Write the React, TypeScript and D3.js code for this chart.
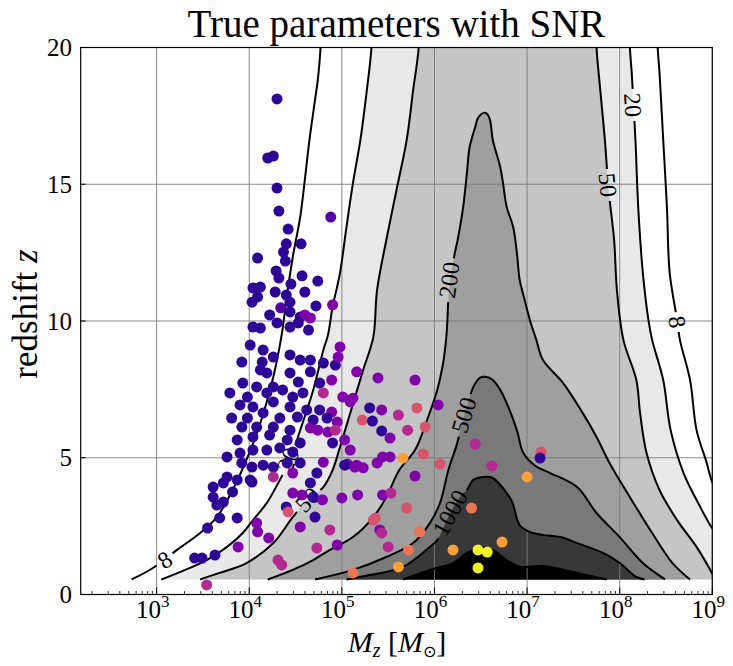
import React from 'react';
import * as d3 from 'd3';

// ---------------- data ----------------
const logMassDomain = [2.18, 9];
const redshiftDomain = [0, 20];
const xMajorExponents = [3, 4, 5, 6, 7, 8, 9];
const yTickValues = [0, 5, 10, 15, 20];

const snrLevels = [8, 20, 50, 200, 500, 1000, 2000];
const snrFills = ['#ffffff', '#e8e8e8', '#c5c5c5', '#9f9f9f', '#797979', '#383838', '#000000'];

// contour lines [log10 M, z]; points beyond the axes only close the filled regions
const contour8: [number, number][] = [
  [2.73, 0.55], [2.96, 0.97], [3.22, 1.63], [3.47, 2.25], [3.65, 2.83], [3.82, 3.82], [3.97, 4.92], [4.12, 6.27],
  [4.26, 7.96], [4.35, 9.49], [4.40, 10.77], [4.47, 12.34], [4.55, 13.8], [4.60, 15.15], [4.65, 16.62], [4.71, 18.08],
  [4.74, 18.81], [4.77, 20.02], [4.78, 22], [8.40, 22], [8.41, 20.02], [8.43, 19.07], [8.47, 16.62], [8.51, 14.17],
  [8.54, 11.76], [8.62, 10.04], [8.65, 9.31], [8.76, 7.84], [8.83, 6.01], [8.94, 4.81], [8.99, 4.19], [9.1, 3.3], [9.3, 0.55],
];
const contour20: [number, number][] = [
  [3.05, 0.55], [3.25, 0.82], [3.54, 1.26], [3.76, 1.74], [3.93, 2.25], [4.04, 2.72], [4.19, 3.35], [4.33, 4.19],
  [4.44, 4.92], [4.55, 6.01], [4.69, 7.47], [4.80, 8.94], [4.85, 9.49], [4.90, 10.51], [4.98, 11.76], [5.05, 13.44],
  [5.12, 15.05], [5.20, 16.62], [5.27, 18.45], [5.32, 20.02], [5.33, 22], [8.10, 22], [8.11, 20.02], [8.13, 19.07],
  [8.17, 16.62], [8.20, 14.17], [8.25, 11.76], [8.31, 10.04], [8.35, 9.31], [8.47, 7.84], [8.55, 6.01], [8.69, 4.44],
  [8.87, 3.2], [8.99, 2.47], [9.1, 2.0], [9.3, 0.55],
];
const contour50: [number, number][] = [
  [3.47, 0.55], [3.68, 0.79], [3.97, 1.15], [4.26, 1.88], [4.47, 2.83], [4.63, 3.46], [4.80, 3.93], [4.90, 4.55],
  [4.98, 5.39], [5.09, 6.63], [5.23, 8.21], [5.34, 9.42], [5.38, 11.13], [5.48, 12.96], [5.59, 14.79], [5.70, 16.62],
  [5.77, 18.45], [5.83, 20.02], [5.84, 22], [7.74, 22], [7.75, 20.02], [7.79, 18.45], [7.84, 16.62], [7.88, 14.79],
  [7.94, 12.96], [7.97, 11.13], [8.04, 9.31], [8.18, 7.84], [8.22, 6.64], [8.29, 5.17], [8.43, 3.82], [8.62, 2.72],
  [8.83, 1.74], [8.99, 0.82], [9.03, 0.55],
];
const contour200: [number, number][] = [
  [4.20, 0.55], [4.47, 0.9], [4.69, 1.26], [4.87, 1.63], [5.12, 2.1], [5.34, 2.83], [5.48, 3.56], [5.62, 4.55],
  [5.79, 5.28], [5.92, 6.38], [6.03, 7.48], [6.09, 8.39], [6.13, 9.49], [6.15, 10.77], [6.17, 11.5], [6.22, 12.49],
  [6.25, 12.96], [6.31, 14.17], [6.35, 15.41], [6.38, 16.36], [6.44, 17.09], [6.47, 17.42], [6.53, 17.61], [6.57, 17.57],
  [6.60, 17.35], [6.63, 16.62], [6.71, 15.63], [6.74, 15.05], [6.78, 14.17], [6.85, 13.44], [6.89, 12.49], [6.92, 11.5],
  [6.96, 10.95], [7.03, 10.04], [7.10, 9.31], [7.17, 8.58], [7.39, 7.73], [7.60, 6.64], [7.75, 5.76], [7.89, 4.81],
  [8.11, 3.56], [8.33, 2.36], [8.57, 1.15], [8.76, 0.55],
];
const contour500: [number, number][] = [
  [4.71, 0.55], [5.12, 0.9], [5.48, 1.37], [5.77, 1.88], [5.95, 2.61], [6.06, 3.35], [6.15, 4.55], [6.24, 5.47],
  [6.28, 6.01], [6.34, 6.74], [6.42, 7.59], [6.49, 7.92], [6.55, 7.96], [6.63, 7.84], [6.71, 7.48], [6.78, 7.0],
  [6.89, 6.01], [6.96, 5.17], [7.09, 4.7], [7.25, 4.44], [7.54, 3.93], [7.75, 2.98], [8.00, 2.1], [8.25, 1.15], [8.49, 0.55],
];
const contour1000: [number, number][] = [
  [5.05, 0.55], [5.30, 0.71], [5.66, 1.01], [5.95, 1.74], [6.03, 1.99], [6.17, 2.98], [6.31, 3.71], [6.35, 3.82],
  [6.42, 4.19], [6.52, 4.3], [6.63, 4.26], [6.78, 3.71], [6.84, 3.38], [6.92, 2.54], [7.03, 2.29], [7.17, 2.18],
  [7.36, 2.1], [7.54, 1.88], [7.82, 1.52], [8.00, 1.15], [8.18, 0.64], [8.27, 0.55],
];
const contour2000: [number, number][] = [
  [5.66, 0.55], [5.95, 0.9], [6.20, 1.15], [6.35, 1.52], [6.52, 1.74], [6.63, 1.63], [6.78, 1.26], [6.92, 1.02],
  [7.17, 1.04], [7.54, 0.79], [7.86, 0.55],
];
const snrContours = [contour8, contour20, contour50, contour200, contour500, contour1000, contour2000];

// inline contour labels
const contourLabelValues = [8, 20, 50, 200, 500, 1000, 20, 50, 8];
const contourLabelLogM = [3.09, 4.42, 4.63, 6.16, 6.32, 6.17, 8.14, 7.87, 8.62];
const contourLabelZ = [1.26, 4.92, 3.46, 11.5, 6.56, 2.98, 17.9, 14.97, 9.96];

// scatter: log10 mass, redshift, colour value (plasma)
const pointLogM = [
  4.30, 4.20, 4.26, 4.30, 4.32, 4.42, 4.88, 4.40, 4.56, 4.37, 4.09, 4.39, 4.29, 4.32, 4.57, 4.74, 4.04, 4.12, 4.09, 4.03,
  4.28, 4.45, 4.40, 4.60, 4.72, 4.90, 4.22, 4.34, 4.44, 4.44, 4.55, 4.60, 4.66, 4.30, 4.44, 4.53, 4.64, 4.04, 4.12, 4.01,
  3.92, 4.15, 4.14, 4.26, 4.44, 4.55, 4.66, 4.80, 4.98, 4.93, 4.12, 4.19, 4.44, 4.66, 5.16, 5.39, 3.93, 4.08, 4.26, 4.53,
  4.76, 4.89, 3.79, 3.98, 4.19, 4.36, 4.47, 4.58, 4.80, 5.01, 5.12, 3.90, 4.04, 4.26, 4.44, 4.62, 4.76, 4.89, 5.09, 5.22,
  5.30, 5.43, 3.81, 3.98, 4.15, 4.33, 4.52, 4.69, 4.84, 4.95, 5.33, 3.92, 4.08, 4.26, 4.44, 4.66, 4.74, 4.85, 4.93, 5.43,
  3.87, 4.04, 4.22, 4.41, 4.55, 5.03, 5.52, 3.76, 3.90, 4.04, 4.19, 4.33, 4.47, 3.92, 4.03, 4.15, 4.26, 4.41, 4.55, 4.80,
  5.06, 5.16, 5.23, 5.38, 5.44, 5.52, 3.76, 3.87, 4.03, 4.26, 4.47, 4.73, 4.66, 3.61, 3.72, 3.82, 4.47, 4.57, 4.69, 4.79,
  5.00, 5.17, 5.44, 5.53, 3.61, 3.65, 4.40, 4.42, 4.71, 3.68, 3.87, 4.08, 4.09, 4.55, 4.87, 5.34, 3.55, 4.21, 4.73, 4.95,
  5.41, 5.43, 3.88, 3.41, 3.49, 3.63, 4.31, 4.35, 5.12, 3.54, 5.79, 5.81, 6.04, 5.61, 5.71, 5.90, 6.44, 5.66, 5.88, 6.06,
  5.79, 6.62, 7.15, 7.14, 7.00, 5.03, 5.14, 5.70, 6.40, 5.36, 5.84, 5.50, 5.72, 6.20, 6.47, 6.57, 6.73, 5.61, 6.47, 4.96,
  5.09, 4.90, 4.01, 3.72,
];
const pointZ = [
  18.12, 15.96, 16.03, 14.86, 14.02, 13.36, 13.8, 12.82, 12.82, 12.52, 12.3, 12.19, 11.83, 11.57, 11.65, 11.46, 11.21, 11.24, 10.88, 10.69,
  11.06, 11.35, 10.95, 11.06, 10.55, 10.59, 10.22, 10.48, 10.69, 10.33, 10.15, 10.22, 10.11, 9.93, 9.78, 9.93, 9.67, 9.78, 9.74, 9.12,
  8.5, 8.94, 8.5, 8.68, 8.76, 8.57, 8.57, 8.46, 9.05, 8.39, 8.21, 8.1, 8.1, 8.14, 8.14, 7.92, 7.73, 7.59, 7.59, 7.77,
  7.73, 7.84, 7.37, 7.22, 7.37, 7.48, 7.22, 7.37, 7.37, 7.22, 7.18, 6.93, 6.86, 7.04, 6.86, 6.75, 6.75, 6.67, 7.04, 6.38,
  6.82, 6.75, 6.45, 6.45, 6.64, 6.45, 6.49, 6.38, 6.45, 6.31, 6.34, 6.12, 6.12, 6.12, 6.01, 6.09, 6.01, 5.94, 6.01, 5.98,
  5.65, 5.76, 5.83, 5.65, 5.54, 5.65, 5.72, 5.03, 5.17, 5.28, 5.28, 5.36, 5.21, 4.81, 4.66, 4.73, 4.66, 4.81, 4.81, 4.84,
  4.77, 4.73, 4.63, 4.81, 5.03, 5.03, 4.3, 4.19, 4.11, 4.3, 4.44, 4.44, 4.08, 3.93, 4.08, 3.75, 3.71, 3.64, 3.56, 3.46,
  3.53, 3.64, 3.64, 3.71, 3.56, 3.27, 3.2, 3.02, 2.83, 2.8, 2.8, 2.61, 2.29, 2.47, 2.36, 2.72, 2.43, 2.07, 1.7, 1.81,
  2.36, 2.25, 1.74, 1.33, 1.33, 1.44, 1.26, 1.08, 0.79, 0.35, 7.84, 6.82, 6.93, 6.56, 6.01, 6.12, 5.5, 4.99, 5.14, 4.77,
  4.33, 4.7, 5.21, 4.99, 4.3, 4.73, 4.66, 3.16, 3.16, 2.8, 2.29, 1.74, 1.63, 1.63, 1.63, 1.55, 1.92, 1.01, 0.97, 8.68,
  5.28, 5.54, 4.19, 3.38,
];
const pointColor = [
  0.06, 0.06, 0.06, 0.06, 0.06, 0.06, 0.14, 0.06, 0.06, 0.06, 0.06, 0.06, 0.06, 0.06, 0.06, 0.06, 0.06, 0.06, 0.06, 0.06,
  0.06, 0.06, 0.06, 0.06, 0.06, 0.25, 0.06, 0.14, 0.06, 0.06, 0.06, 0.25, 0.25, 0.06, 0.06, 0.06, 0.06, 0.06, 0.06, 0.06,
  0.06, 0.06, 0.06, 0.06, 0.06, 0.06, 0.06, 0.06, 0.25, 0.06, 0.06, 0.06, 0.06, 0.06, 0.25, 0.25, 0.06, 0.06, 0.06, 0.06,
  0.06, 0.25, 0.06, 0.06, 0.06, 0.06, 0.06, 0.06, 0.4, 0.25, 0.25, 0.06, 0.06, 0.06, 0.06, 0.06, 0.06, 0.25, 0.25, 0.55,
  0.06, 0.25, 0.06, 0.06, 0.06, 0.06, 0.06, 0.06, 0.06, 0.25, 0.06, 0.06, 0.06, 0.06, 0.06, 0.25, 0.25, 0.25, 0.4, 0.06,
  0.06, 0.06, 0.06, 0.06, 0.06, 0.25, 0.25, 0.06, 0.06, 0.06, 0.06, 0.06, 0.06, 0.06, 0.06, 0.06, 0.06, 0.06, 0.06, 0.25,
  0.25, 0.25, 0.25, 0.25, 0.25, 0.25, 0.06, 0.06, 0.06, 0.4, 0.25, 0.06, 0.06, 0.06, 0.06, 0.06, 0.25, 0.25, 0.06, 0.25,
  0.25, 0.25, 0.25, 0.4, 0.06, 0.06, 0.06, 0.55, 0.06, 0.06, 0.06, 0.25, 0.25, 0.25, 0.4, 0.55, 0.06, 0.25, 0.4, 0.25,
  0.25, 0.4, 0.25, 0.06, 0.06, 0.06, 0.4, 0.4, 0.66, 0.4, 0.25, 0.55, 0.25, 0.4, 0.4, 0.55, 0.4, 0.78, 0.55, 0.55,
  0.25, 0.4, 0.55, 0.06, 0.78, 0.06, 0.25, 0.55, 0.66, 0.55, 0.66, 0.4, 0.66, 0.78, 0.98, 0.98, 0.78, 0.78, 0.98, 0.25,
  0.25, 0.06, 0.06, 0.06,
];

// ---------------- layout ----------------
const W = 733;
const H = 666;
const PL = 80.7;
const PR = 712.3;
const PT = 47.5;
const PB = 594.5;
const FONT = "'Liberation Serif', 'DejaVu Serif', serif";

export default function App() {
  const x = d3.scaleLog().domain([10 ** logMassDomain[0], 10 ** logMassDomain[1]]).range([PL, PR]);
  const y = d3.scaleLinear().domain(redshiftDomain).range([PB, PT]);
  const px = (p: [number, number]): [number, number] => [x(10 ** p[0]), y(p[1])];
  const lineGen = d3.line().curve(d3.curveCatmullRom.alpha(0.5));

  const contourPaths = snrContours.map((c) => lineGen(c.map(px)) as string);

  const labelFs = 24;
  const labels = contourLabelValues.map((v, i) => {
    const lvl = snrLevels.indexOf(v);
    const pts = snrContours[lvl].map(px);
    const [lx, ly] = px([contourLabelLogM[i], contourLabelZ[i]]);
    let best = 0;
    let bd = Infinity;
    pts.forEach((p, j) => {
      const d = (p[0] - lx) ** 2 + (p[1] - ly) ** 2;
      if (d < bd) { bd = d; best = j; }
    });
    const a = pts[Math.max(0, best - 1)];
    const b = pts[Math.min(pts.length - 1, best + 1)];
    let ang = (Math.atan2(b[1] - a[1], b[0] - a[0]) * 180) / Math.PI;
    if (ang > 90) ang -= 180;
    if (ang < -90) ang += 180;
    const text = String(v);
    return { text, x: lx, y: ly, ang, w: text.length * labelFs * 0.5 + 8, h: labelFs * 0.72 };
  });

  const minorTicks: number[] = [];
  for (let e = 2; e <= 8; e++) {
    for (let k = 2; k <= 9; k++) {
      const v = k * 10 ** e;
      if (v > 10 ** logMassDomain[0] && v < 10 ** logMassDomain[1]) minorTicks.push(v);
    }
  }

  return (
    <svg width={W} height={H} viewBox={`0 0 ${W} ${H}`} style={{ display: 'block', margin: '-8px', background: '#fff' }}>
      <defs>
        <clipPath id="plotClip">
          <rect x={PL} y={PT} width={PR - PL} height={PB - PT} />
        </clipPath>
        <mask id="labelMask" maskUnits="userSpaceOnUse" x={0} y={0} width={W} height={H}>
          <rect x={0} y={0} width={W} height={H} fill="white" />
          {labels.map((l, i) => (
            <rect key={i} transform={`translate(${l.x},${l.y}) rotate(${l.ang})`} x={-l.w / 2} y={-l.h / 2} width={l.w} height={l.h} fill="black" />
          ))}
        </mask>
      </defs>
      <rect x={0} y={0} width={W} height={H} fill="#fff" />

      <g clipPath="url(#plotClip)">
        {contourPaths.map((d, i) => (
          <path key={i} d={d + 'Z'} fill={snrFills[i]} stroke="none" />
        ))}
        {/* grid */}
        {xMajorExponents.map((e) => (
          <line key={'gx' + e} x1={x(10 ** e)} x2={x(10 ** e)} y1={PT} y2={PB} stroke="#7c7c7c" strokeWidth={0.9} />
        ))}
        {yTickValues.map((v) => (
          <line key={'gy' + v} x1={PL} x2={PR} y1={y(v)} y2={y(v)} stroke="#7c7c7c" strokeWidth={0.9} />
        ))}
        <g mask="url(#labelMask)">
          {contourPaths.map((d, i) => (
            <path key={i} d={d} fill="none" stroke="#000" strokeWidth={2} strokeLinejoin="round" />
          ))}
        </g>
        {labels.map((l, i) => (
          <text key={i} transform={`translate(${l.x},${l.y}) rotate(${l.ang})`} textAnchor="middle" dominantBaseline="central"
            fontFamily={FONT} fontSize={labelFs} fill="#000">{l.text}</text>
        ))}
        {pointLogM.map((m, i) => (
          <circle key={i} cx={x(10 ** m)} cy={y(pointZ[i])} r={5.5} fill={d3.interpolatePlasma(pointColor[i])} />
        ))}
      </g>

      {/* spines */}
      <rect x={PL} y={PT} width={PR - PL} height={PB - PT} fill="none" stroke="#000" strokeWidth={1.2} />
      {/* ticks */}
      {xMajorExponents.map((e) => (
        <line key={'tx' + e} x1={x(10 ** e)} x2={x(10 ** e)} y1={PB} y2={PB - 7} stroke="#000" strokeWidth={1} />
      ))}
      {minorTicks.map((v) => (
        <line key={'mx' + v} x1={x(v)} x2={x(v)} y1={PB} y2={PB - 3.5} stroke="#000" strokeWidth={0.8} />
      ))}
      {yTickValues.map((v) => (
        <line key={'ty' + v} x1={PL} x2={PL + 5} y1={y(v)} y2={y(v)} stroke="#000" strokeWidth={1} />
      ))}
      {/* tick labels */}
      {xMajorExponents.map((e) => (
        <text key={'lx' + e} x={x(10 ** e) - 4} y={618} textAnchor="middle" fontFamily={FONT} fontSize={25} fill="#000">
          10<tspan dy={-11} fontSize={17}>{e}</tspan>
        </text>
      ))}
      {yTickValues.map((v) => (
        <text key={'ly' + v} x={72} y={y(v)} textAnchor="end" dominantBaseline="central" fontFamily={FONT} fontSize={25} fill="#000">{v}</text>
      ))}
      {/* axis labels */}
      <text x={397} y={652} textAnchor="middle" fontFamily={FONT} fontSize={30} fill="#000">
        <tspan fontStyle="italic">M</tspan>
        <tspan fontStyle="italic" fontSize={20} dy={5}>z</tspan>
        <tspan dy={-5}> [</tspan>
        <tspan fontStyle="italic">M</tspan>
        <tspan fontSize={16} dy={5} fontFamily="'DejaVu Sans', sans-serif">⊙</tspan>
        <tspan dy={-5}>]</tspan>
      </text>
      <text transform={`translate(37,${314}) rotate(-90)`} textAnchor="middle" fontFamily={FONT} fontSize={35} fill="#000">
        redshift <tspan fontStyle="italic">z</tspan>
      </text>
      {/* title */}
      <text x={(PL + PR) / 2} y={37} textAnchor="middle" fontFamily={FONT} fontSize={39} fill="#000">True parameters with SNR</text>
    </svg>
  );
}
